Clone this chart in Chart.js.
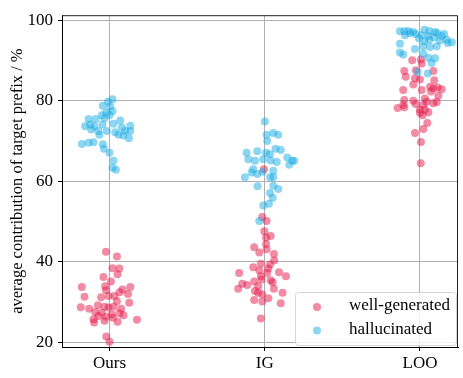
<!DOCTYPE html>
<html>
<head>
<meta charset="utf-8">
<script src="https://cdn.jsdelivr.net/npm/chart.js@4/dist/chart.umd.min.js"></script>
<style>
  html, body { margin: 0; padding: 0; background: #fff; }
  #wrap { width: 463px; height: 378px; }
</style>
</head>
<body>
<div id="wrap"><canvas id="stripChart"></canvas></div>
<script>
// categories and series names
const categories = ['Ours', 'IG', 'LOO'];
const seriesNames = ['well-generated', 'hallucinated'];
const yTicks = [20, 40, 60, 80, 100];

// points: [jitter offset from category centre, value]
const oursWell = [
  [-0.023, 42.5], [0.048, 41.3], [0.019, 38.4], [0.063, 38.3], [0.052, 36.9], [-0.039, 36.2],
  [0.009, 35.1], [-0.178, 33.7], [-0.028, 33.9], [0.084, 33.1], [0.134, 33.7], [-0.023, 32.9],
  [0.065, 32.4], [-0.161, 31.3], [-0.054, 31.2], [-0.006, 31.5], [0.032, 31.5], [0.119, 32.0],
  [0.048, 30.2], [0.127, 29.8], [-0.185, 28.7], [-0.131, 28.3], [-0.075, 29.2], [-0.032, 28.8],
  [-0.006, 28.6], [0.026, 28.8], [0.075, 28.3], [-0.092, 27.5], [-0.049, 27.3], [0.015, 26.9],
  [0.065, 27.2], [0.090, 26.7], [-0.071, 26.5], [-0.023, 26.3], [0.022, 26.1], [-0.103, 25.7],
  [-0.099, 24.9], [-0.032, 25.3], [0.052, 25.1], [0.177, 25.6], [-0.021, 21.4], [0.000, 20.1]
];
const oursHall = [
  [0.019, 80.4], [-0.010, 79.8], [-0.043, 78.8], [0.005, 78.6], [0.019, 77.4], [-0.021, 77.1],
  [-0.049, 76.4], [0.000, 76.5], [-0.135, 75.5], [-0.088, 75.5], [-0.032, 75.7], [0.069, 75.1],
  [-0.157, 73.7], [-0.125, 74.1], [-0.097, 73.7], [-0.045, 74.1], [0.026, 74.3], [0.134, 73.8],
  [0.080, 73.4], [-0.118, 72.9], [-0.071, 72.5], [-0.017, 72.5], [0.037, 72.2], [0.101, 72.5],
  [0.134, 72.5], [-0.065, 71.6], [0.058, 71.6], [0.090, 71.4], [0.125, 70.7], [-0.103, 69.7],
  [-0.135, 69.6], [-0.178, 69.3], [-0.043, 69.2], [-0.036, 68.1], [0.000, 67.1], [0.026, 65.1],
  [0.019, 63.4], [0.041, 62.9]
];
const igWell = [
  [-0.016, 51.1], [0.012, 50.1], [-0.003, 47.6], [0.008, 46.0], [0.038, 46.4], [0.008, 44.4],
  [-0.068, 43.6], [0.012, 43.1], [-0.035, 42.3], [0.059, 41.9], [0.061, 40.3], [-0.025, 39.5],
  [0.034, 39.3], [-0.074, 38.6], [0.023, 38.3], [-0.035, 37.8], [-0.165, 37.2], [0.092, 37.4],
  [0.137, 36.4], [-0.025, 36.4], [0.016, 37.2], [-0.068, 35.1], [-0.020, 35.6], [0.038, 35.4],
  [0.051, 34.9], [-0.145, 34.5], [-0.113, 34.2], [-0.171, 33.3], [-0.042, 33.9], [0.059, 33.3],
  [-0.063, 32.7], [-0.042, 32.3], [0.115, 32.3], [-0.016, 31.9], [-0.068, 30.5], [-0.016, 30.1],
  [0.023, 30.9], [0.103, 29.7], [-0.025, 25.9], [-0.005, 63.0]
];
const igHall = [
  [0.001, 74.9], [0.012, 71.6], [0.055, 72.0], [0.087, 71.6], [0.016, 70.0], [-0.117, 67.1],
  [-0.048, 67.5], [0.008, 67.1], [0.034, 66.7], [0.070, 68.1], [0.103, 67.8], [-0.106, 65.5],
  [-0.063, 65.1], [-0.010, 65.5], [0.038, 65.2], [0.077, 64.8], [0.145, 65.9], [0.177, 65.1],
  [0.190, 65.1], [0.158, 64.1], [-0.074, 63.0], [-0.085, 62.2], [-0.048, 61.8], [-0.014, 62.4],
  [0.055, 62.6], [-0.128, 61.0], [0.034, 61.0], [0.055, 61.1], [-0.046, 58.8], [0.055, 58.9],
  [0.087, 58.1], [0.034, 57.1], [0.051, 55.9], [0.027, 54.4], [-0.010, 54.0], [-0.035, 50.1]
];
const looWell = [
  [-0.050, 90.1], [0.006, 90.3], [0.011, 89.3], [-0.101, 87.4], [-0.026, 87.6], [0.086, 87.4],
  [-0.092, 86.0], [-0.032, 85.6], [0.092, 85.1], [0.000, 85.3], [-0.043, 84.1], [0.065, 83.5],
  [0.086, 83.1], [0.114, 83.3], [0.140, 82.9], [-0.108, 82.7], [0.011, 82.7], [0.071, 82.3],
  [0.118, 81.3], [0.032, 80.6], [-0.101, 80.2], [-0.043, 80.0], [0.043, 79.8], [-0.108, 79.0],
  [-0.028, 79.2], [0.021, 79.0], [0.086, 79.4], [0.108, 79.7], [-0.144, 78.2], [-0.101, 78.4],
  [0.000, 77.8], [0.032, 77.8], [0.000, 77.0], [0.054, 77.2], [0.017, 76.4], [0.047, 74.5],
  [0.021, 73.0], [-0.032, 72.0], [0.006, 69.8], [0.005, 64.5]
];
const looHall = [
  [-0.129, 97.3], [-0.101, 97.3], [-0.075, 97.4], [-0.043, 97.1], [-0.028, 96.6], [0.028, 97.7],
  [0.060, 97.4], [0.097, 97.1], [-0.097, 96.3], [0.011, 96.3], [0.054, 96.1], [0.092, 95.8],
  [0.140, 96.1], [-0.129, 94.2], [0.028, 94.8], [0.060, 95.2], [0.129, 95.0], [0.179, 94.4],
  [0.205, 94.6], [0.172, 95.2], [-0.032, 92.9], [0.021, 93.6], [0.065, 93.4], [0.108, 93.6],
  [-0.129, 92.0], [-0.108, 91.5], [0.021, 91.7], [0.054, 90.7], [0.097, 90.6], [0.075, 89.4],
  [0.050, 86.8], [-0.015, 87.2], [-0.065, 96.8], [-0.006, 95.5], [0.110, 96.9], [0.155, 96.6]
];

const wellByCat = [oursWell, igWell, looWell];
const hallByCat = [oursHall, igHall, looHall];

function toPoints(groups) {
  const pts = [];
  groups.forEach((g, ci) => g.forEach(p => pts.push({ x: ci + p[0], y: p[1] })));
  return pts;
}

const serif = "'Liberation Serif', 'DejaVu Serif', serif";
const pinkPt = 'rgba(230, 25, 75, 0.5)';
const bluePt = 'rgba(28, 173, 228, 0.5)';

// top/right frame + legend box inside the axes
const framePlugin = {
  id: 'frame',
  afterDraw(chart) {
    const { ctx, chartArea: a } = chart;
    ctx.save();
    ctx.strokeStyle = '#222';
    ctx.lineWidth = 1;
    ctx.beginPath();
    ctx.moveTo(a.left, a.top + 0.5);
    ctx.lineTo(a.right - 0.5, a.top + 0.5);
    ctx.lineTo(a.right - 0.5, a.bottom);
    ctx.stroke();

    // legend
    const w = 161, h = 53;
    const x0 = a.right - 2 - w, y0 = a.bottom - 2 - h;
    ctx.beginPath();
    ctx.roundRect(x0 + 0.5, y0 + 0.5, w, h, 3);
    ctx.fillStyle = 'rgba(255,255,255,0.8)';
    ctx.fill();
    ctx.strokeStyle = '#d6d6d6';
    ctx.stroke();
    const colors = [pinkPt, bluePt];
    ctx.font = '17px ' + serif;
    ctx.textBaseline = 'middle';
    seriesNames.forEach((name, i) => {
      const cy = y0 + 15 + i * 23.5;
      ctx.beginPath();
      ctx.arc(x0 + 22, cy, 4, 0, Math.PI * 2);
      ctx.fillStyle = colors[i];
      ctx.fill();
      ctx.fillStyle = '#000';
      ctx.fillText(name, x0 + 54, cy - 1);
    });
    ctx.restore();
  }
};

const ctx = document.getElementById('stripChart').getContext('2d');
new Chart(ctx, {
  type: 'scatter',
  data: {
    datasets: [
      {
        label: seriesNames[0],
        data: toPoints(wellByCat),
        backgroundColor: pinkPt,
        borderWidth: 0,
        pointRadius: 4,
        order: 2
      },
      {
        label: seriesNames[1],
        data: toPoints(hallByCat),
        backgroundColor: bluePt,
        borderWidth: 0,
        pointRadius: 4,
        order: 1
      }
    ]
  },
  options: {
    responsive: true,
    maintainAspectRatio: false,
    animation: false,
    events: [],
    layout: { padding: { top: 11, right: 5, left: 0, bottom: 0 } },
    plugins: {
      legend: { display: false },
      tooltip: { enabled: false }
    },
    scales: {
      x: {
        type: 'linear',
        min: -0.306,
        max: 2.245,
        afterBuildTicks: s => { s.ticks = categories.map((c, i) => ({ value: i })); },
        afterFit: s => { s.height = 31; },
        grid: { color: '#b0b0b0', lineWidth: 1, tickColor: '#000', tickLength: 4 },
        border: { color: '#000', width: 1 },
        ticks: {
          color: '#000',
          font: { family: serif, size: 17 },
          padding: 2,
          maxRotation: 0,
          callback: v => categories[v]
        }
      },
      y: {
        min: 18.8,
        max: 101.3,
        afterBuildTicks: s => { s.ticks = yTicks.map(v => ({ value: v })); },
        afterFit: s => { s.width = 62; },
        grid: { color: '#b0b0b0', lineWidth: 1, tickColor: '#000', tickLength: 4 },
        border: { color: '#000', width: 1 },
        title: {
          display: true,
          text: 'average contribution of target prefix / %',
          color: '#000',
          font: { family: serif, size: 16.5 },
          padding: { top: 8, bottom: 2 }
        },
        ticks: {
          color: '#000',
          font: { family: serif, size: 17 },
          padding: 5
        }
      }
    }
  },
  plugins: [framePlugin]
});
</script>
</body>
</html>
